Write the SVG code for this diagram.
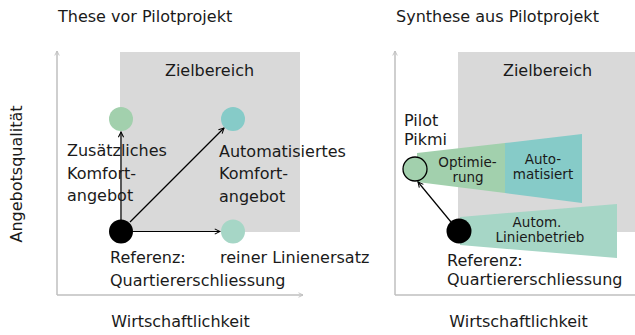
<svg xmlns="http://www.w3.org/2000/svg" width="635" height="335" viewBox="0 0 635 335">
<style>
text{font-family:"DejaVu Sans","Liberation Sans",sans-serif;fill:#1a1a1a}
.t{font-size:16px}
.s{font-size:13.5px;text-anchor:middle}
.zone{fill:#d9d9d9}
.axis{stroke:#bfbfbf;stroke-width:1.5;fill:none}
.arr{stroke:#000;stroke-width:1.2;fill:none}
</style>
<defs>
<marker id="ah" viewBox="0 0 8 8" refX="7" refY="4" markerWidth="7" markerHeight="7" markerUnits="userSpaceOnUse" orient="auto">
<path d="M1,1 L7,4 L1,7" fill="none" stroke="#000" stroke-width="1.2"/>
</marker>
<marker id="ax" viewBox="0 0 8 8" refX="7" refY="4" markerWidth="6" markerHeight="6" markerUnits="userSpaceOnUse" orient="auto">
<path d="M1,1 L7,4 L1,7" fill="none" stroke="#bfbfbf" stroke-width="1.2"/>
</marker>
</defs>
<rect width="635" height="335" fill="#fff"/>

<!-- Left panel -->
<text class="t" x="58" y="22">These vor Pilotprojekt</text>
<rect id="zone-left" class="zone" x="120" y="52" width="180" height="180"/>
<text class="t" x="209.5" y="76" text-anchor="middle">Zielbereich</text>
<g id="axes-left">
<path class="axis" d="M57,295 V51" marker-end="url(#ax)"/>
<path class="axis" d="M57,295 H303" marker-end="url(#ax)"/>
</g>
<text class="t" transform="translate(22,174) rotate(-90)" text-anchor="middle">Angebotsqualität</text>
<text class="t" x="180.5" y="327" text-anchor="middle">Wirtschaftlichkeit</text>

<g id="connectors-left">
<path class="arr" d="M121,220 V132" marker-end="url(#ah)"/>
<path class="arr" d="M130,222 L224,128" marker-end="url(#ah)"/>
<path class="arr" d="M133,231.5 H220" marker-end="url(#ah)"/>
</g>

<g id="node-komfort">
<circle cx="121" cy="119" r="12" fill="#a2d0ad"/>
<text class="t" x="67" y="156">Zusätzliches</text>
<text class="t" x="67" y="178.5">Komfort-</text>
<text class="t" x="67" y="201">angebot</text>
</g>
<g id="node-auto-komfort">
<circle cx="233" cy="119" r="12" fill="#86cbc8"/>
<text class="t" x="219" y="156.5">Automatisiertes</text>
<text class="t" x="219" y="179">Komfort-</text>
<text class="t" x="219" y="201.5">angebot</text>
</g>
<g id="node-referenz-left">
<circle cx="121" cy="231.5" r="12" fill="#000"/>
<text class="t" x="110" y="263">Referenz:</text>
<text class="t" x="110" y="286">Quartiererschliessung</text>
</g>
<g id="node-linienersatz">
<circle cx="233" cy="231.5" r="12" fill="#a6d6c6"/>
<text class="t" x="220" y="263">reiner Linienersatz</text>
</g>

<!-- Right panel -->
<text class="t" x="396" y="22">Synthese aus Pilotprojekt</text>
<rect id="zone-right" class="zone" x="458" y="52" width="177" height="180"/>
<text class="t" x="547.5" y="76" text-anchor="middle">Zielbereich</text>
<g id="axes-right">
<path class="axis" d="M395,295 V51" marker-end="url(#ax)"/>
<path class="axis" d="M395,295 H635"/>
</g>
<text class="t" x="518.5" y="327" text-anchor="middle">Wirtschaftlichkeit</text>

<g id="wedge-optimierung">
<polygon points="417,153 505,143 505,193 417,182" fill="#a2d0ad"/>
<text class="s" x="467.5" y="166.5">Optimie-</text>
<text class="s" x="468" y="182">rung</text>
</g>
<g id="wedge-automatisiert">
<polygon points="505,143 582,134 582,203 505,193" fill="#86cbc8"/>
<text class="s" x="543" y="163.5">Auto-</text>
<text class="s" x="543" y="179">matisiert</text>
</g>
<g id="wedge-linienbetrieb">
<polygon points="460,217 617,204 617,258 460,245" fill="#a6d6c6"/>
<text class="s" x="537" y="226.5">Autom.</text>
<text class="s" x="540" y="242">Linienbetrieb</text>
</g>

<g id="connectors-right">
<path class="arr" d="M451,222 L418,182" marker-end="url(#ah)"/>
</g>

<g id="node-pilot">
<circle cx="415" cy="169" r="12" fill="#a2d0ad" stroke="#000" stroke-width="1.3"/>
<text class="t" x="404" y="126">Pilot</text>
<text class="t" x="404" y="145">Pikmi</text>
</g>
<g id="node-referenz-right">
<circle cx="459" cy="231" r="12.5" fill="#000"/>
<text class="t" x="447" y="265.5">Referenz:</text>
<text class="t" x="447" y="284.5">Quartiererschliessung</text>
</g>
</svg>
